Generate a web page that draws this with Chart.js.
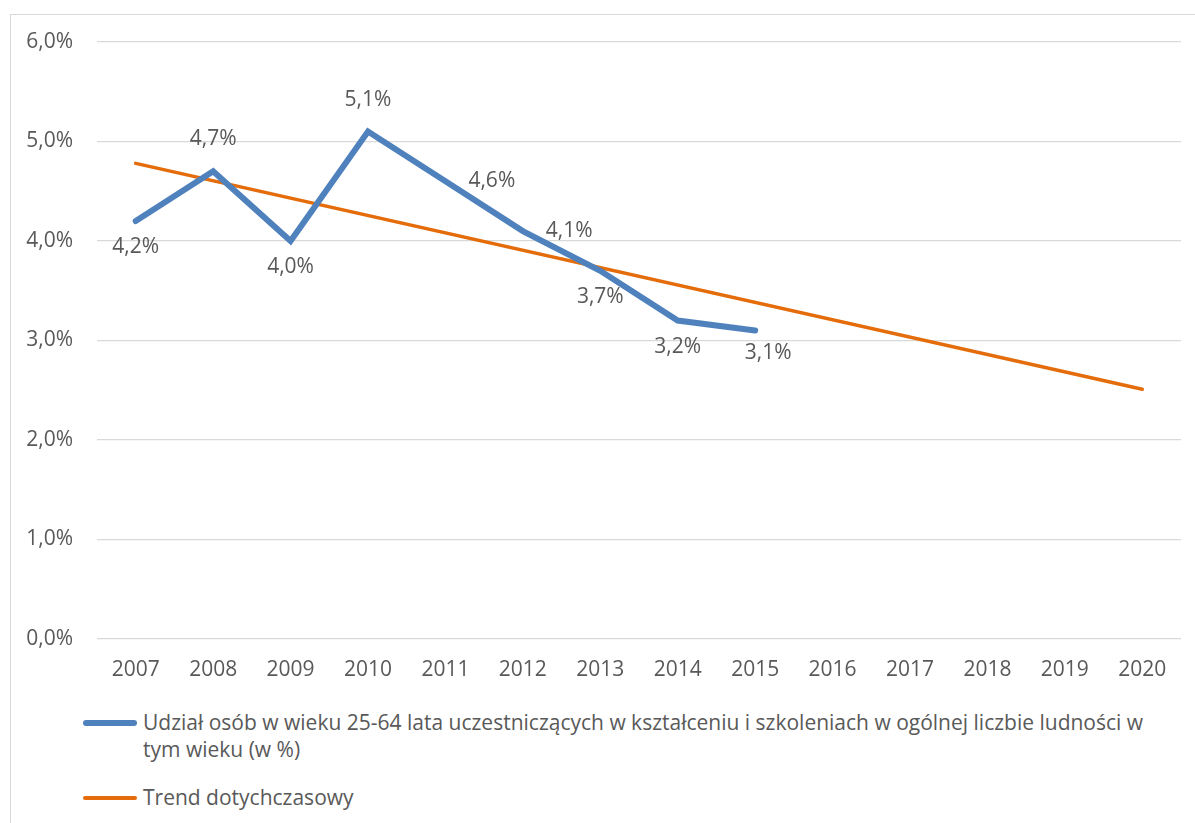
<!DOCTYPE html>
<html lang="pl">
  <head>
    <meta charset="utf-8" />
    <title>Udział osób w wieku 25-64 lata w kształceniu</title>
    <script src="https://cdn.jsdelivr.net/npm/chart.js@4/dist/chart.umd.min.js"></script>

    <style type='text/css'>

      body{
        margin: 0;
        background-color: #ffffff;
        font-family: "Open Sans", sans-serif;
        color: #595959;
      }

      #frame{
        position: absolute;
        left: 10px;
        top: 14px;
        width: 1300px;
        height: 900px;
        border: 1px solid #d9d9d9;
      }

      #myChart{
        position: absolute;
        left: 0;
        top: 0;
      }

      .legendItem{
        position: absolute;
        left: 83px;
        font-size: 21px;
        line-height: 27px;
      }

      .legendItem .mark{
        position: absolute;
        left: 0;
        width: 54px;
        border-radius: 3px;
      }

      .legendItem .text{
        margin-left: 60px;
        white-space: nowrap;
      }

    </style>
  </head>
  <body>

    <div id='frame'></div>
    <canvas id="myChart" width="1195" height="700"></canvas>
    <div id='legend'></div>

    <script id='chartData'>
      var years = ["2007", "2008", "2009", "2010", "2011", "2012", "2013", "2014", "2015", "2016", "2017", "2018", "2019", "2020"];
      var udzial = [4.2, 4.7, 4.0, 5.1, 4.6, 4.1, 3.7, 3.2, 3.1, null, null, null, null, null];
      var trend = [4.78, null, null, null, null, null, null, null, null, null, null, null, null, 2.51];
      var yTicks = [0, 1, 2, 3, 4, 5, 6];
      var udzialLabel = "Udział osób w wieku 25-64 lata uczestniczących w kształceniu i szkoleniach w ogólnej liczbie ludności w tym wieku (w %)";
      var trendLabel = "Trend dotychczasowy";
      // where each value label sits relative to its point
      var labelPlacement = ['below', 'above', 'below', 'above', 'right', 'right', 'below', 'below', 'belowRight'];
    </script>

    <script id='lineChart'>
      var blue = '#4f81bd';
      var orange = '#e46c0a';
      var textColor = '#595959';
      var fontFamily = '"Open Sans", sans-serif';

      function pct(v){
        return v.toFixed(1).replace('.', ',') + '%';
      }

      var valueLabels = {
        id: 'valueLabels',
        afterDatasetsDraw: function(chart){
          var ctx = chart.ctx;
          var meta = chart.getDatasetMeta(0);
          ctx.save();
          ctx.font = '21px ' + fontFamily;
          ctx.fillStyle = textColor;
          ctx.textBaseline = 'middle';
          meta.data.forEach(function(pt, i){
            var v = udzial[i];
            if (v === null || v === undefined) return;
            var place = labelPlacement[i];
            var x = pt.x, y = pt.y;
            ctx.textAlign = 'center';
            if (place === 'above') y -= 32;
            else if (place === 'below') y += 26;
            else if (place === 'belowRight') { x += 13; y += 22; }
            else if (place === 'right') { ctx.textAlign = 'left'; x += 23; }
            ctx.fillText(pct(v), x, y);
          });
          ctx.restore();
        }
      };

      new Chart(document.getElementById("myChart").getContext('2d'), {
        type: "line",
        data: {
          labels: years,
          datasets: [
            {
              label: udzialLabel,
              data: udzial,
              borderColor: blue,
              backgroundColor: blue,
              borderWidth: 6,
              borderCapStyle: 'round',
              borderJoinStyle: 'miter',
              pointRadius: 0,
              tension: 0
            },
            {
              label: trendLabel,
              data: trend,
              borderColor: orange,
              backgroundColor: orange,
              borderWidth: 3.5,
              borderCapStyle: 'round',
              pointRadius: 0,
              spanGaps: true,
              tension: 0
            }
          ]
        },
        options: {
          responsive: false,
          animation: false,
          layout: {
            padding: { left: 0, top: 42, right: 14, bottom: 0 }
          },
          plugins: {
            legend: { display: false },
            tooltip: { enabled: false }
          },
          scales: {
            x: {
              offset: true,
              grid: { display: false, drawTicks: false },
              border: { display: false },
              ticks: {
                color: textColor,
                padding: 18,
                font: { family: fontFamily, size: 21 }
              },
              afterFit: function(scale){ scale.height = 61; }
            },
            y: {
              min: 0,
              max: 6,
              afterBuildTicks: function(scale){
                scale.ticks = yTicks.map(function(v){ return { value: v }; });
              },
              grid: { color: '#d9d9d9', lineWidth: 1.3, drawTicks: false },
              border: { display: false },
              ticks: {
                color: textColor,
                padding: 24,
                font: { family: fontFamily, size: 21 },
                callback: function(v){ return pct(v); }
              },
              afterFit: function(scale){ scale.width = 97; }
            }
          }
        },
        plugins: [valueLabels]
      });
    </script>

    <script id='legendLogic'>
      var legendItems = [
        { color: blue, width: 6, top: 709, markTop: 11, lines: ["Udział osób w wieku 25-64 lata uczestniczących w kształceniu i szkoleniach w ogólnej liczbie ludności w", "tym wieku (w %)"] },
        { color: orange, width: 3.5, top: 784, markTop: 12, lines: [trendLabel] }
      ];
      var legend = document.getElementById('legend');
      legendItems.forEach(function(item){
        var div = document.createElement('div');
        div.className = 'legendItem';
        div.style.top = item.top + 'px';
        var mark = document.createElement('div');
        mark.className = 'mark';
        mark.style.top = item.markTop + 'px';
        mark.style.height = item.width + 'px';
        mark.style.background = item.color;
        div.appendChild(mark);
        item.lines.forEach(function(line){
          var t = document.createElement('div');
          t.className = 'text';
          t.textContent = line;
          div.appendChild(t);
        });
        legend.appendChild(div);
      });
    </script>

  </body>
</html>
